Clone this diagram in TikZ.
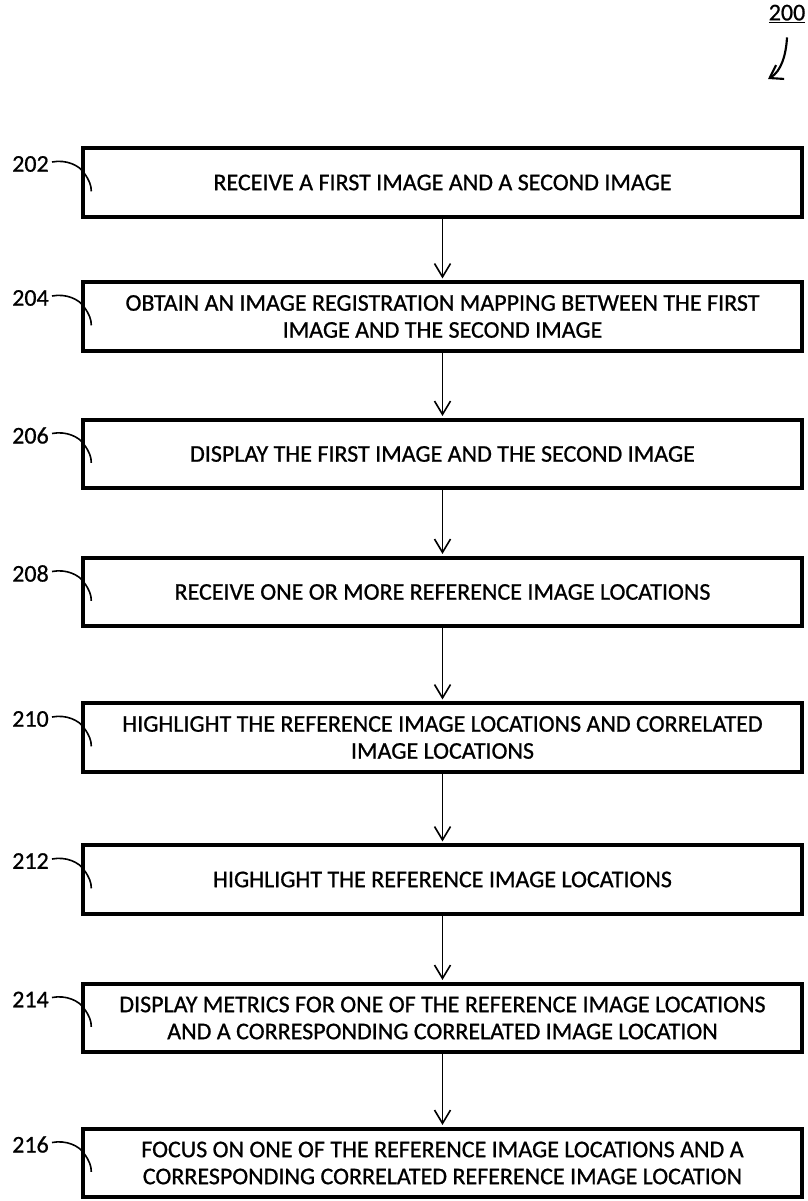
\documentclass[tikz,border=0pt]{standalone}
\usepackage{fontspec}
\setmainfont{Carlito}[RawFeature={embolden=0.8}]
\usetikzlibrary{arrows.meta,calc}
\begin{document}
\begin{tikzpicture}[x=0.75pt,y=-0.75pt,
  stepbox/.style={draw,line width=2.8pt,minimum width=539pt,minimum height=51.5pt,inner sep=0pt,align=center,font=\fontsize{18}{20.25}\selectfont},
  lbl/.style={anchor=east,inner sep=0pt,font=\fontsize{18}{20}\selectfont},
  flow/.style={line width=1.2pt,shorten >=1.4pt,-{Straight Barb[length=10pt,width=12pt]}},
  lead/.style={line width=1.2pt}]
\useasboundingbox (0,0) rectangle (807,1201);

\node[stepbox] (b202) at (442.5,182.5) {RECEIVE A FIRST IMAGE AND A SECOND IMAGE};
\node[stepbox] (b204) at (442.5,316.5) {OBTAIN AN IMAGE REGISTRATION MAPPING BETWEEN THE FIRST\\IMAGE AND THE SECOND IMAGE};
\node[stepbox] (b206) at (442.5,454) {DISPLAY THE FIRST IMAGE AND THE SECOND IMAGE};
\node[stepbox] (b208) at (442.5,592) {RECEIVE ONE OR MORE REFERENCE IMAGE LOCATIONS};
\node[stepbox] (b210) at (442.5,737.5) {HIGHLIGHT THE REFERENCE IMAGE LOCATIONS AND CORRELATED\\IMAGE LOCATIONS};
\node[stepbox] (b212) at (442.5,879.5) {HIGHLIGHT THE REFERENCE IMAGE LOCATIONS};
\node[stepbox] (b214) at (442.5,1018) {DISPLAY METRICS FOR ONE OF THE REFERENCE IMAGE LOCATIONS\\AND A CORRESPONDING CORRELATED IMAGE LOCATION};
\node[stepbox] (b216) at (442.5,1163) {FOCUS ON ONE OF THE REFERENCE IMAGE LOCATIONS AND A\\CORRESPONDING CORRELATED REFERENCE IMAGE LOCATION};

\foreach \n/\c in {202/182.5,204/316.5,206/454,208/592,210/737.5,212/879.5,214/1018,216/1163}{
  \node[lbl] (l\n) at (49,\c-18.5) {\n};
  \draw[lead] ($(l\n.east)+(3,-2)$) .. controls ($(b\n.north west)+(-15,13)$) and ($(b\n.north west)+(-2,19)$) .. ($(b\n.north west)+(3,27)$)
     .. controls ($(b\n.north west)+(8,34)$) and ($(b\n.north west)+(10,39)$) .. ($(b\n.north west)+(10,45)$);
}

\draw[flow] (b202) -- (b204);
\draw[flow] (b204) -- (b206);
\draw[flow] (b206) -- (b208);
\draw[flow] (b208) -- (b210);
\draw[flow] (b210) -- (b212);
\draw[flow] (b212) -- (b214);
\draw[flow] (b214) -- (b216);

\node[inner sep=0pt,font=\fontsize{18}{20}\selectfont] (fig) at (787,14) {\underline{200}};
\coordinate (figtip) at (768,79);
\draw[line width=1.6pt,-{Straight Barb[length=9pt,width=12pt]}] ($(fig.south)+(0,14)$) .. controls ($(fig.south)+(-1,32)$) and ($(fig.south)+(-6,48)$) .. (figtip);
\end{tikzpicture}
\end{document}
